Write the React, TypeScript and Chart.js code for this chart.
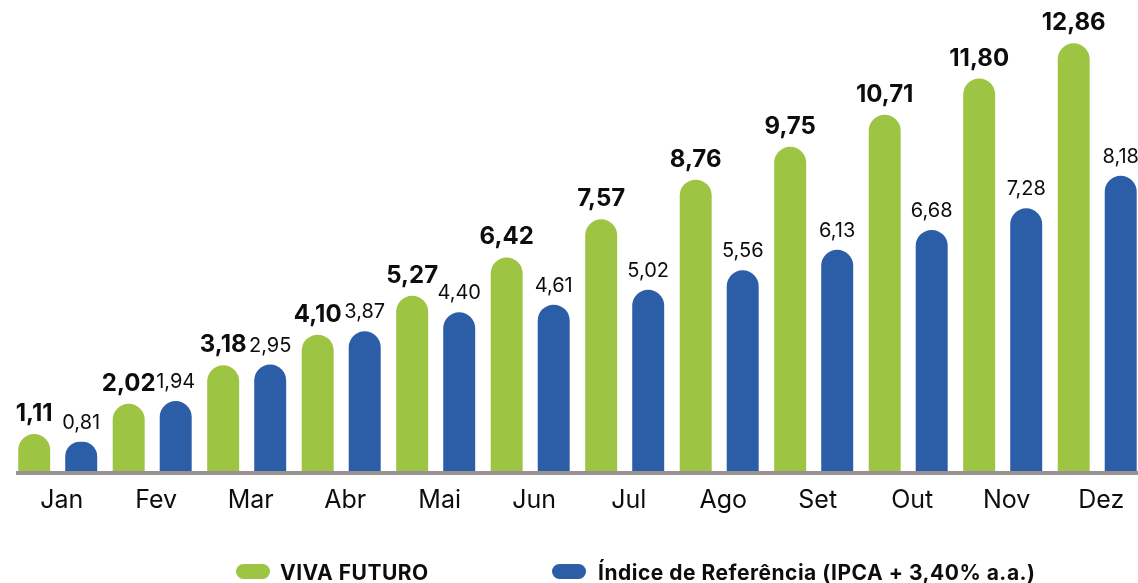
import React, { useEffect, useRef } from 'react';
import { Chart, registerables } from 'chart.js';

Chart.register(...registerables);

const months = ['Jan', 'Fev', 'Mar', 'Abr', 'Mai', 'Jun', 'Jul', 'Ago', 'Set', 'Out', 'Nov', 'Dez'];
const vivaFuturo = [1.11, 2.02, 3.18, 4.1, 5.27, 6.42, 7.57, 8.76, 9.75, 10.71, 11.8, 12.86];
const indiceReferencia = [0.81, 1.94, 2.95, 3.87, 4.4, 4.61, 5.02, 5.56, 6.13, 6.68, 7.28, 8.18];
const seriesLabels = ['VIVA FUTURO', 'Índice de Referência (IPCA + 3,40% a.a.)'];

const GREEN = '#9DC443';
const BLUE = '#2C5EA8';
const FONT = 'Inter, "Noto Sans", sans-serif';

const fmt = (v: number) => v.toFixed(2).replace('.', ',');

const valueLabels = {
  id: 'valueLabels',
  afterDatasetsDraw(chart: any) {
    const ctx = chart.ctx;
    ctx.save();
    chart.data.datasets.forEach((ds: any, i: number) => {
      const meta = chart.getDatasetMeta(i);
      const bold = i === 0;
      ctx.font = bold ? `bold 24px ${FONT}` : `20px ${FONT}`;
      ctx.fillStyle = '#0d0d0d';
      ctx.textAlign = 'center';
      ctx.textBaseline = 'alphabetic';
      meta.data.forEach((bar: any, j: number) => {
        ctx.fillText(fmt(ds.data[j]), bar.x, bar.y - 13);
      });
    });
    ctx.restore();
  },
};

const baseline = {
  id: 'baseline',
  afterDatasetsDraw(chart: any) {
    const ctx = chart.ctx;
    const y = chart.chartArea.bottom;
    ctx.save();
    ctx.fillStyle = '#979191';
    ctx.fillRect(16, y, chart.width - 16, 4);
    ctx.restore();
  },
};

const customLegend = {
  id: 'customLegend',
  afterDraw(chart: any) {
    const ctx = chart.ctx;
    const pos = [
      { px: 236, tx: 280 },
      { px: 552, tx: 598 },
    ];
    ctx.save();
    chart.data.datasets.forEach((ds: any, i: number) => {
      const p = pos[i];
      ctx.fillStyle = ds.backgroundColor;
      ctx.beginPath();
      ctx.roundRect(p.px, 564, 34, 15, 7.5);
      ctx.fill();
      ctx.fillStyle = '#0d0d0d';
      ctx.font = `bold 21px ${FONT}`;
      try {
        (ctx as any).letterSpacing = '0.5px';
      } catch (e) {}
      ctx.textAlign = 'left';
      ctx.textBaseline = 'alphabetic';
      ctx.fillText(ds.label, p.tx, 580);
    });
    ctx.restore();
  },
};

export default function App() {
  const ref = useRef<HTMLCanvasElement | null>(null);

  useEffect(() => {
    document.body.style.margin = '0';
    document.body.style.overflow = 'hidden';
    document.documentElement.style.overflow = 'hidden';
    const canvas = ref.current;
    if (!canvas) return;
    const chart = new Chart(canvas, {
      type: 'bar',
      data: {
        labels: months,
        datasets: [
          {
            label: seriesLabels[0],
            data: vivaFuturo,
            backgroundColor: GREEN,
            borderRadius: { topLeft: 16, topRight: 16, bottomLeft: 0, bottomRight: 0 },
            borderSkipped: false,
            yAxisID: 'y',
            barPercentage: 0.68,
            categoryPercentage: 0.995,
          },
          {
            label: seriesLabels[1],
            data: indiceReferencia,
            backgroundColor: BLUE,
            borderRadius: { topLeft: 16, topRight: 16, bottomLeft: 0, bottomRight: 0 },
            borderSkipped: false,
            yAxisID: 'y2',
            barPercentage: 0.68,
            categoryPercentage: 0.995,
          },
        ],
      },
      options: {
        responsive: false,
        animation: false,
        layout: { padding: { left: 10.45, right: 1.55, top: 21, bottom: 0 } },
        plugins: {
          legend: { display: false },
          tooltip: { enabled: false },
        },
        scales: {
          x: {
            grid: { display: false },
            border: { display: false },
            ticks: {
              color: '#0d0d0d',
              font: { family: FONT, size: 25 },
              padding: 6,
              labelOffset: 4,
            },
            afterFit: (scale: any) => {
              scale.height = 112;
            },
          },
          y: { display: false, min: 0, max: 13.53 },
          y2: { display: false, min: 0, max: 12.47 },
        },
      },
      plugins: [baseline, valueLabels, customLegend],
    });
    return () => chart.destroy();
  }, []);

  return (
    <div style={{ position: 'absolute', left: 0, top: 0, width: 1146, height: 583, background: '#fff' }}>
      <canvas ref={ref} width={1146} height={583} />
    </div>
  );
}
